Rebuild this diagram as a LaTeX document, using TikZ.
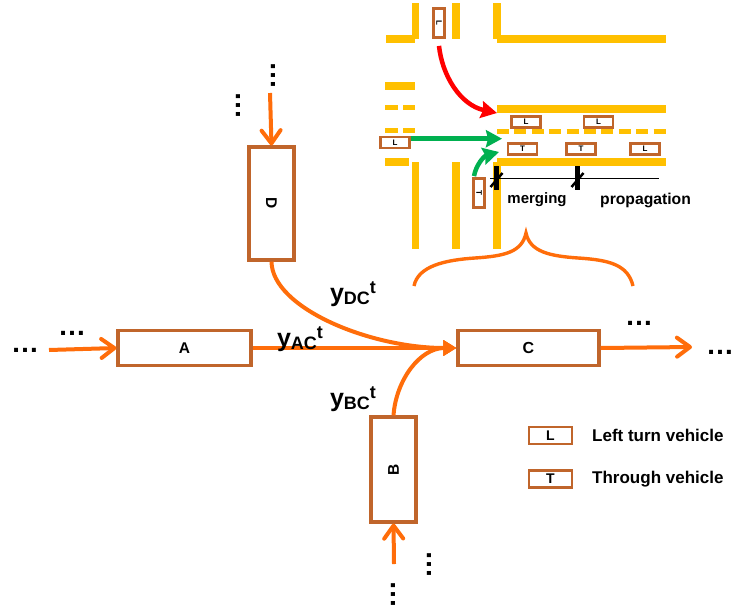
\documentclass[tikz,border=0pt]{standalone}
\usepackage{fontspec}
\setmainfont{Liberation Sans}
\usepackage{xcolor}
\usetikzlibrary{arrows.meta,calc}
\definecolor{roadyellow}{HTML}{FFC000}
\definecolor{flowline}{HTML}{FF6D0A}
\definecolor{boxline}{HTML}{C0652B}
\definecolor{turnred}{HTML}{FF0000}
\definecolor{turngreen}{HTML}{00B050}
\newcommand{\sizedfont}[1]{\fontsize{#1}{#1}\selectfont\bfseries}
\newcommand{\flowtext}[1]{{\sizedfont{25}y}\raisebox{-2.5pt}{\sizedfont{18}#1}\raisebox{8.5pt}{\sizedfont{18}t}}
\tikzset{
    link/.style={rectangle, draw=boxline, line width=3.2pt, fill=white, inner sep=0pt, font=\sizedfont{15.5}},
    veh/.style={rectangle, draw=boxline, line width=2.8pt, fill=white, inner sep=0pt, minimum width=29pt, minimum height=11pt, font=\sizedfont{8}},
    road/.style={draw=roadyellow, line width=7.5pt},
    lane/.style={draw=roadyellow, line width=4.8pt},
    flow/.style={draw=flowline, line width=4pt, -{Straight Barb[length=13pt,width=19pt,line width=4pt,round]}},
    merge/.style={draw=flowline, line width=4pt, -{Triangle[length=13pt,width=15pt]}},
    dots/.style={inner sep=0pt, font=\sizedfont{28}},
    turn/.style={line width=4.5pt, -{Stealth[length=16pt,width=17pt,inset=2pt]}}
}
\begin{document}
\begin{tikzpicture}[x=1pt,y=-1pt]
    \useasboundingbox (0,0) rectangle (735,613);
    % road edges
    \foreach \x in {415.5,456,497} {
        \draw[road] (\x,3) -- (\x,39);
        \draw[road] (\x,162) -- (\x,249);
    }
    \foreach \xa/\xb/\y in {386/415/39, 497/666/39, 385/415/86, 497/666/109, 385/409/162, 497/666/162} {
        \draw[road] (\xa,\y) -- (\xb,\y);
    }
    % lane marks
    \foreach \xa/\xb/\y in {385/398/107.5, 403/415/107.5, 385/398/130.5, 403/415/130.5} {
        \draw[lane] (\xa,\y) -- (\xb,\y);
    }
    \foreach \x in {0,...,9} {
        \draw[lane] ({497+\x*17.4},131.5) -- ({509+\x*17.4},131.5);
    }
    % vehicles
    \node[veh] (v1) at (526,122) {L};
    \node[veh] (v2) at (598.5,122) {L};
    \node[veh] (v3) at (522.5,149) {T};
    \node[veh] (v4) at (581,149) {T};
    \node[veh] (v5) at (645,149) {L};
    \node[veh] (v6) at (395,142.5) {L};
    \node[veh, rotate=-90] (v7) at (439,23) {L};
    \node[veh, rotate=-90] (v8) at (479,193) {T};
    % turning movements
    \coordinate (redend) at (497,113);
    \coordinate (greenend) at (502,138.7);
    \coordinate (curveend) at (499,152);
    \draw[turn, turnred] ($(v7.east)+(0,7)$) .. controls (442,75) and (460,105) .. (redend);
    \draw[turn, turngreen] (v6.east |- greenend) -- (greenend);
    \draw[turn, turngreen] ($(v8.west)+(-5,-1)$) .. controls (476,165) and (484,156) .. (curveend);
    % section marks
    \coordinate (markstart) at (490,178.5);
    \coordinate (markend) at (659,178.5);
    \draw[line width=0.8pt] (markstart) -- (markend);
    \foreach \x in {496.5,577.5} {
        \draw[line width=5pt] (\x,166) -- (\x,190);
        \draw[line width=2.5pt] ($(\x,180)+(-6,7)$) -- ($(\x,180)+(6,-7)$);
    }
    \node[font=\sizedfont{15}, inner sep=0pt] (merging) at (537,200) {merging};
    \node[font=\sizedfont{15.7}, inner sep=0pt] (prop) at (645.5,200) {propagation};
    % brace
    \draw[draw=flowline, line width=3.4pt] (414,286) .. controls (418,266) and (445,260) .. (475,258) .. controls (505,256) and (522,252) .. (526,233) .. controls (530,252) and (550,256) .. (578,258) .. controls (610,260) and (628,265) .. (633,286);
    % links
    \node[link, minimum width=133pt, minimum height=35pt] (A) at (184.5,348) {A};
    \node[link, minimum width=141pt, minimum height=35pt, font=\sizedfont{16}] (C) at (528.5,348) {C};
    \node[link, minimum width=105pt, minimum height=45pt, rotate=90] (B) at (393.5,469.5) {B};
    \node[link, minimum width=113pt, minimum height=45pt, rotate=-90] (D) at (271.5,203.5) {D};
    \coordinate (Ain) at (49,350);
    \coordinate (Cout) at (692,347);
    \coordinate (Bin) at (394,564);
    \coordinate (Din) at (270,93);
    \draw[flow] (Ain) -- (A.west);
    \draw[flow] (Din) -- (D.west);
    \draw[flow] (Bin) -- (B.west);
    \draw[flow] (C.east) -- (Cout);
    \draw[merge] (A.east) -- (C.west);
    \draw[merge] (D.east) .. controls (272,308) and (370,348) .. (C.west);
    \draw[merge] (B.east) .. controls (396,380) and (420,348) .. (C.west);
    % flow labels
    \node[inner sep=0pt] (lac) at (300,339) {\flowtext{AC}};
    \node[inner sep=0pt] (ldc) at (353,294) {\flowtext{DC}};
    \node[inner sep=0pt] (lbc) at (353,399) {\flowtext{BC}};
    % ellipses
    \node[dots] (d1) at (25,350) {…};
    \node[dots] (d2) at (72,333) {…};
    \node[dots] (d3) at (639,323) {…};
    \node[dots] (d4) at (720,352) {…};
    \node[dots, rotate=90] (d5) at (273,75) {…};
    \node[dots, rotate=90] (d6) at (238,105) {…};
    \node[dots, rotate=90] (d7) at (393,594) {…};
    \node[dots, rotate=90] (d8) at (429,564) {…};
    % legend
    \node[veh, minimum width=43pt, minimum height=17pt, font=\sizedfont{14}] (keyl) at (550.5,435.5) {L};
    \node[veh, minimum width=43pt, minimum height=17pt, font=\sizedfont{14}] (keyt) at (550.5,479) {T};
    \node[anchor=west, inner sep=0pt, font=\sizedfont{17}] (keyltext) at (592,435) {Left turn vehicle};
    \node[anchor=west, inner sep=0pt, font=\sizedfont{17}] (keyttext) at (592,479) {Through vehicle};
\end{tikzpicture}
\end{document}
